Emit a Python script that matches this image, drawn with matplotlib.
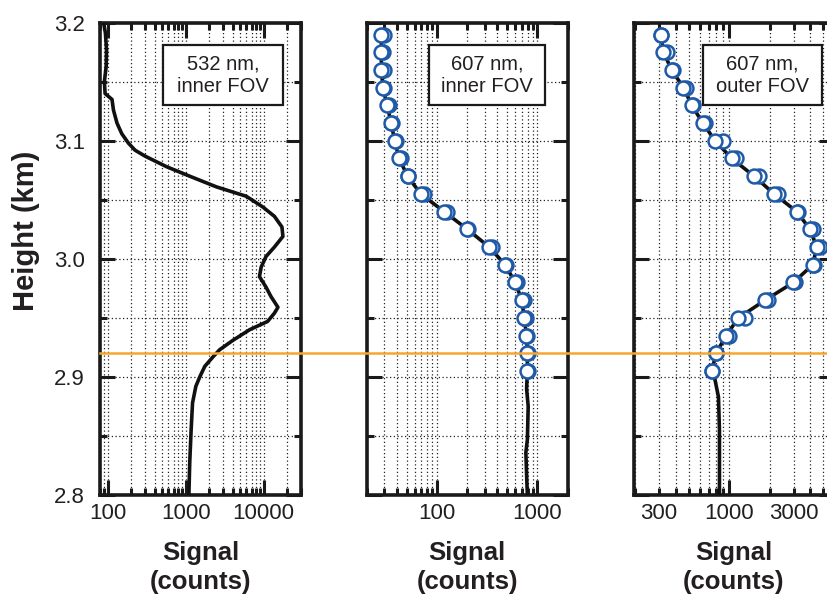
import matplotlib
matplotlib.use("Agg")
import matplotlib.pyplot as plt
import numpy as np
from matplotlib.ticker import LogLocator, MultipleLocator, NullFormatter, FuncFormatter
from matplotlib.lines import Line2D
from matplotlib.patches import Rectangle
from matplotlib.transforms import blended_transform_factory

plt.rcParams['font.family'] = ['Liberation Sans', 'DejaVu Sans']

# ---- 532 nm, inner FOV (continuous profile) ----
h532 = [3.200, 3.191, 3.177, 3.163, 3.150, 3.140, 3.135, 3.126, 3.115, 3.106,
        3.098, 3.092, 3.087, 3.078, 3.070, 3.061, 3.053, 3.044, 3.036, 3.027,
        3.019, 3.010, 3.002, 2.993, 2.985, 2.976, 2.968, 2.959, 2.954, 2.947,
        2.940, 2.931, 2.923, 2.917, 2.909, 2.900, 2.892, 2.878, 2.855, 2.827,
        2.800]
s532 = [89, 94, 97, 96, 91, 93, 114, 119, 132, 152,
        185, 225, 302, 571, 1127, 2470, 5970, 9700, 13700, 17100,
        17600, 13700, 10700, 9270, 8810, 10700, 12400, 15200, 13700, 11200,
        6600, 4030, 2720, 2240, 1760, 1515, 1350, 1225, 1175, 1127,
        1100]

# ---- 607 nm sample heights (km) ----
h607 = [2.905, 2.920, 2.935, 2.950, 2.965, 2.980, 2.995, 3.010, 3.025, 3.040,
        3.055, 3.070, 3.085, 3.100, 3.115, 3.130, 3.145, 3.160, 3.175, 3.190]

# 607 nm, inner FOV: two overlapping profiles
s607_inner_a = [794, 794, 778, 738, 700, 600, 477, 331, 201, 118,
                69, 51, 42, 38, 35, 32, 29, 28, 28, 28]
s607_inner_b = [800, 800, 790, 770, 740, 620, 490, 350, 205, 125,
                74, 52, 44, 39.5, 36, 33, 30, 29.5, 29, 30]
# profile below the cloud base
h607_inner_low = [2.800, 2.813, 2.836, 2.847, 2.875, 2.890]
s607_inner_low = [794, 783, 767, 794, 809, 780]

# 607 nm, outer FOV: two overlapping profiles
s607_outer_a = [740, 796, 945, 1167, 1845, 2994, 4170, 4465, 3980, 3170,
                2152, 1527, 1042, 783, 634, 525, 455, 372, 323, 309]
s607_outer_b = [745, 800, 990, 1300, 1950, 3050, 4250, 4700, 4200, 3250,
                2300, 1650, 1120, 902, 660, 540, 475, 380, 345, 312]
h607_outer_low = [2.800, 2.827, 2.855, 2.883, 2.897]
s607_outer_low = [843, 843, 843, 829, 783]

cloud_base = 2.92

panel_titles = ["532 nm,\ninner FOV", "607 nm,\ninner FOV", "607 nm,\nouter FOV"]
xlims = [(80, 30000), (20, 2000), (195, 6000)]
tick_color = '#231f20'
blue = '#1f5aa8'
orange = '#f6a62e'

W, H = 827, 594
fig = plt.figure(figsize=(W / 100, H / 100), dpi=100)

bottom = 1 - 495 / H
top = 1 - 22.7 / H
ax_h = top - bottom
ax1 = fig.add_axes([100 / W, bottom, 201 / W, ax_h])
ax2 = fig.add_axes([366.7 / W, bottom, 201 / W, ax_h])
ax3 = fig.add_axes([634 / W, bottom, 200 / W, ax_h])
axes = [ax1, ax2, ax3]

# title box positions in axes fraction: (x0, x1)
box_x = [(0.313, 0.910), (0.308, 0.888), (0.3465, 0.938)]
box_y = (0.826, 0.952)

for i, ax in enumerate(axes):
    ax.set_xscale('log')
    ax.set_xlim(*xlims[i])
    ax.set_ylim(2.8, 3.2)
    ax.xaxis.set_major_locator(LogLocator(base=10, numticks=10))
    ax.xaxis.set_minor_locator(LogLocator(base=10, subs=np.arange(2, 10), numticks=10))
    ax.xaxis.set_major_formatter(FuncFormatter(lambda v, p: f"{int(round(v))}"))
    ax.xaxis.set_minor_formatter(NullFormatter())
    ax.yaxis.set_major_locator(MultipleLocator(0.1))
    ax.yaxis.set_minor_locator(MultipleLocator(0.05))
    ax.yaxis.set_major_formatter(FuncFormatter(lambda v, p: f"{v:.1f}"))
    ax.tick_params(which='both', direction='in', top=True, right=True,
                   width=2.2, color='#1a1a1a', labelcolor=tick_color, labelsize=16)
    ax.tick_params(which='major', length=10.5)
    ax.tick_params(which='minor', length=5)
    ax.tick_params(axis='x', which='both', pad=6)
    ax.tick_params(axis='y', which='both', pad=11)
    ax.grid(which='both', linestyle=(0, (1, 2.0)), linewidth=0.9, color='#222222')
    for sp in ax.spines.values():
        sp.set_linewidth(2.6)
        sp.set_color('#1a1a1a')
    if i > 0:
        ax.tick_params(axis='y', labelleft=False)
    ax.set_xlabel("Signal\n(counts)", fontsize=18.5, fontweight='bold',
                  color=tick_color, labelpad=12, linespacing=1.28)
    x0, x1 = box_x[i]
    ax.add_patch(Rectangle((x0, box_y[0]), x1 - x0, box_y[1] - box_y[0],
                           transform=ax.transAxes, facecolor='white',
                           edgecolor='#1a1a1a', linewidth=1.6, zorder=6))
    ax.text((x0 + x1) / 2, (box_y[0] + box_y[1]) / 2, panel_titles[i],
            transform=ax.transAxes, ha='center', va='center', fontsize=14.5,
            color=tick_color, linespacing=1.2, zorder=7)

# outer FOV panel: label 300 / 1000 / 3000
ax3.xaxis.set_minor_formatter(FuncFormatter(
    lambda v, p: f"{int(round(v))}" if int(round(v)) in (300, 3000) else ""))
ax3.tick_params(axis='x', which='minor', labelsize=16, labelcolor=tick_color, pad=6)

ax1.set_ylabel("Height (km)", fontsize=21, fontweight='bold', color=tick_color)
ax1.yaxis.set_label_coords(-0.30, 0.56)

# profiles
ax1.plot(s532, h532, color='#111111', lw=2.6, zorder=4, solid_capstyle='butt')

mk = dict(marker='o', linestyle='none', ms=10, mfc='white', mec=blue, mew=1.8, zorder=5)

ax2.plot(s607_inner_low + s607_inner_a, h607_inner_low + h607,
         color='#111111', lw=2.6, zorder=4)
ax2.plot(s607_inner_b, h607, **mk)
ax2.plot(s607_inner_a, h607, **mk)

ax3.plot(s607_outer_low + s607_outer_a, h607_outer_low + h607,
         color='#111111', lw=2.6, zorder=4)
ax3.plot(s607_outer_b, h607, **mk)
ax3.plot(s607_outer_a, h607, **mk)

# cloud-base marker across all panels
tr = blended_transform_factory(fig.transFigure, ax1.transData)
fig.add_artist(Line2D([100 / W, 1.0], [cloud_base, cloud_base], transform=tr,
                      color=orange, lw=1.8, zorder=3))

fig.savefig("out.png", dpi=100)
